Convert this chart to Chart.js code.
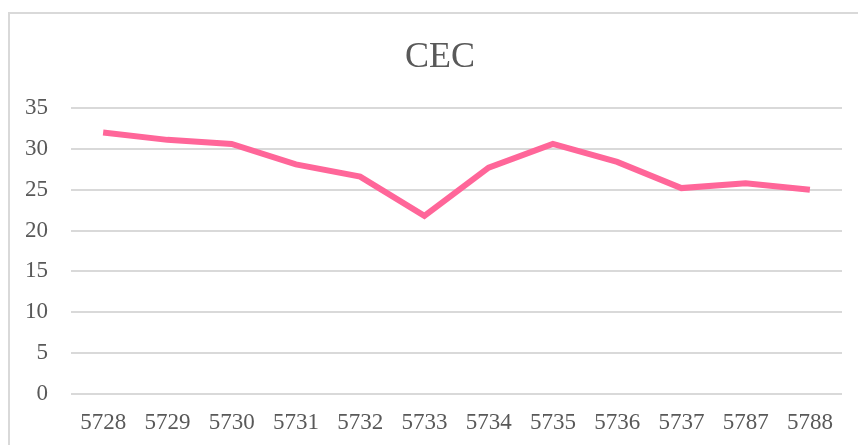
<!DOCTYPE html>
<html>
<head>
<meta charset="utf-8">
<script src="https://cdn.jsdelivr.net/npm/chart.js@4"></script>
<style>
  html, body { margin: 0; padding: 0; background: #fff; overflow: hidden; width: 858px; height: 445px; }
  #wrap { position: absolute; left: 0; top: 0; width: 880px; height: 445px; }
  #frame { position: absolute; left: 8px; top: 12px; width: 900px; height: 500px;
           border: 2px solid #d9d9d9; pointer-events: none; }
</style>
</head>
<body>
<div id="wrap"><canvas id="cecChart"></canvas></div>
<div id="frame"></div>
<script>
// ─── Data ────────────────────────────────────────────────────────────────
const sampleIds = ['5728', '5729', '5730', '5731', '5732', '5733',
                   '5734', '5735', '5736', '5737', '5787', '5788'];
const cecValues = [32.0, 31.1, 30.6, 28.1, 26.6, 21.8,
                   27.7, 30.6, 28.4, 25.2, 25.8, 25.0];
const yTicks = [0, 5, 10, 15, 20, 25, 30, 35];

const FONT = "'Liberation Serif', 'Times New Roman', serif";
const TEXT = '#595959';
const GRID = '#d9d9d9';

const ctx = document.getElementById('cecChart').getContext('2d');

new Chart(ctx, {
    type: 'line',
    data: {
        labels: sampleIds,
        datasets: [{
            label: 'CEC',
            data: cecValues,
            borderColor: '#ff6699',
            borderWidth: 6,
            pointRadius: 0,
            tension: 0,
            fill: false
        }]
    },
    options: {
        responsive: true,
        maintainAspectRatio: false,
        animation: false,
        layout: { padding: 0 },
        plugins: {
            legend: { display: false },
            tooltip: { enabled: false },
            title: {
                display: true,
                text: 'CEC',
                color: TEXT,
                font: { family: FONT, size: 36, weight: 'normal' },
                padding: { top: 36, bottom: 28.8 }
            }
        },
        scales: {
            x: {
                offset: true,
                grid: { display: false },
                border: { display: false },
                ticks: {
                    color: TEXT,
                    font: { family: FONT, size: 23 },
                    padding: 7,
                    maxRotation: 0,
                    autoSkip: false
                },
                afterFit: (s) => { s.height = 51; }
            },
            y: {
                min: yTicks[0],
                max: yTicks[yTicks.length - 1],
                grid: { color: GRID, lineWidth: 2, drawTicks: false },
                border: { display: false },
                ticks: {
                    stepSize: 5,
                    color: TEXT,
                    font: { family: FONT, size: 23 },
                    padding: 23
                },
                afterFit: (s) => { s.width = 71; }
            },
            // spacer on the right so the plot ends where the reference does
            yRight: {
                position: 'right',
                grid: { display: false },
                border: { display: false },
                ticks: { display: false },
                afterFit: (s) => { s.width = 38; }
            }
        }
    }
});
</script>
</body>
</html>
